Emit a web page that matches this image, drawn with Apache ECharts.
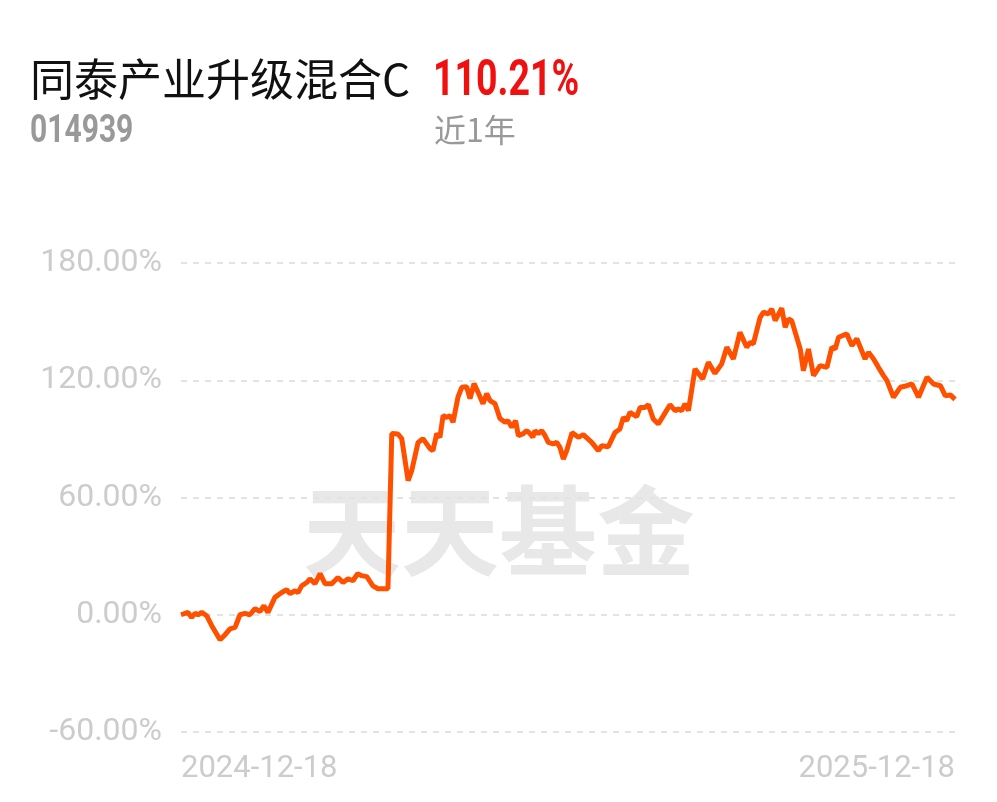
<!DOCTYPE html>
<html>
<head>
<meta charset="utf-8">
<script src="https://cdn.jsdelivr.net/npm/echarts@6/dist/echarts.min.js"></script>
<style>
html,body{margin:0;padding:0;background:#fff;}
#chart{width:997px;height:802px;}
</style>
</head>
<body>
<div id="chart"></div>
<script>
// Day offsets from 2024-12-18 (x) and cumulative return in % (y)
const days = [0,3.3,5.0,6.6,8.0,9.8,12.1,14.5,18.4,20.8,23.1,25.5,27.8,30.2,32.5,34.9,37.3,39.1,41.0,44.3,47.5,49.8,51.4,53.8,55.2,56.9,59.3,60.8,63.2,65.6,67.9,71.1,74.0,76.4,78.8,81.1,83.3,85.2,87.6,90.5,92.9,96.2,97.6,99.4,102.3,104.1,107.1,108.8,111.8,114.1,117.4,118.8,120.6,122.1,123.6,125.3,126.9,128.3,130.6,132.4,134.7,136.3,138.2,140.1,142.4,144.2,145.7,148.1,150.4,152.8,154.2,156.0,157.8,159.1,161.4,163.0,164.6,165.9,166.9,168.5,170.1,171.7,173.2,175.6,177.2,178.7,180.3,181.9,184.4,187.4,189.7,193.7,196.8,198.4,201.5,204.7,207.0,208.6,210.2,211.7,214.9,216.5,218.8,220.4,222.7,225.1,227.5,230.6,233.0,234.5,236.1,237.7,239.3,242.4,246.0,248.7,251.8,255.0,257.4,260.5,263.6,266.8,268.4,269.9,273.1,274.7,277.0,278.6,280.2,283.3,284.9,286.5,288.0,292.0,293.5,295.9,298.3,301.4,304.6,306.9,308.5,310.1,314.0,316.4,318.7,322.6,324.2,326.6,328.9,331.3,332.9,336.0,339.2,342.3,344.7,347.8,351.8,354.9,358.1,360.4,362.8,365];
const returns = [0,1.2,-1.4,0.7,0,1.2,-0.5,-5.6,-12.8,-10.2,-7.2,-6.5,0,0.7,0,3.1,1.7,4.6,1.2,8.9,11.4,12.8,10.8,12.3,11.3,14.8,16.5,18.4,15.9,21.0,15.9,15.9,19.1,16.5,18.4,17.4,21.0,20.0,19.5,14.8,13.3,13.3,13.3,92.7,92.5,90.1,68.6,73.7,88.2,90.1,85.0,84.0,92.7,90.8,101.9,101.0,101.9,98.5,111.3,116.4,116.7,110.6,118.3,113.8,108.0,113.2,109.6,108.0,100.4,98.5,99.3,95.9,99.3,91.6,92.7,94.2,92.7,90.8,94.2,92.7,94.2,91.6,88.2,87.4,88.2,85.7,79.7,84.0,93.2,90.8,92.2,88.2,84.0,86.5,86.0,93.3,95.1,101.0,99.3,103.6,101.4,106.1,106.1,107.5,100.2,97.6,101.9,107.5,104.4,105.3,104.4,107.9,104.4,125.8,120.7,129.2,123.5,128.4,136.9,130.9,144.5,136.9,139.4,138.6,152.2,154.8,154.0,156.5,150.5,156.9,147.1,151.4,150.5,136.0,124.9,136.0,122.4,127.5,126.6,136.9,136.0,142.0,143.7,137.7,141.2,130.9,134.3,130.9,126.6,122.4,119.8,111.3,116.4,117.2,118.1,111.3,121.5,118.1,117.2,112.1,112.5,110.21];
const xLabels = ['2024-12-18','2025-12-18'];
const yTicks = [-60,0,60,120,180];
const fundName = '同泰产业升级混合C';
const fundCode = '014939';
const periodReturn = '110.21%';
const periodLabel = '近1年';

const chart = echarts.init(document.getElementById('chart'));
const seriesData = days.map((d,i)=>[d, returns[i]]);
chart.setOption({
  animation:false,
  backgroundColor:'#fff',
  grid:{left:181,right:42,top:263,bottom:70},
  xAxis:{
    type:'value',min:0,max:365,interval:365,
    axisLine:{show:false},axisTick:{show:false},splitLine:{show:false},
    axisLabel:{
      color:'#cccccc',fontSize:31,fontFamily:'Roboto',margin:22,
      showMinLabel:true,showMaxLabel:true,
      alignMinLabel:'left',alignMaxLabel:'right',
      formatter:function(v){return v===0?xLabels[0]:xLabels[1];}
    }
  },
  yAxis:{
    type:'value',min:yTicks[0],max:yTicks[yTicks.length-1],interval:60,
    axisLine:{show:false},axisTick:{show:false},
    axisLabel:{color:'#cccccc',fontSize:32,fontFamily:'Roboto',margin:19,
      formatter:function(v){return v.toFixed(2)+'%';}},
    splitLine:{show:true,lineStyle:{color:'#e3e3e3',width:2,type:[6,6]}}
  },
  graphic:[
    {type:'text',left:30,top:57,z:10,style:{text:fundName,fill:'#111',font:'44px "Noto Sans CJK SC"'}},
    {type:'text',x:433,y:57,scaleX:0.75,z:10,style:{text:periodReturn,fill:'#f0100f',font:'bold 50px Roboto'}},
    {type:'text',x:30,y:113,scaleX:0.79,z:10,style:{text:fundCode,fill:'#999',font:'bold 38px Roboto'}},
    {type:'text',left:434,top:114,z:10,style:{text:periodLabel,fill:'#999',font:'32px "Noto Sans CJK SC"'}},
    {type:'text',left:303,top:482,z:-10,silent:true,style:{text:'天天基金',fill:'#e8e8e8',font:'bold 98px "Noto Sans CJK SC"'}}
  ],
  series:[{
    type:'line',data:seriesData,showSymbol:false,smooth:false,
    lineStyle:{color:'#ff5000',width:5},z:5
  }]
});
</script>
</body>
</html>
